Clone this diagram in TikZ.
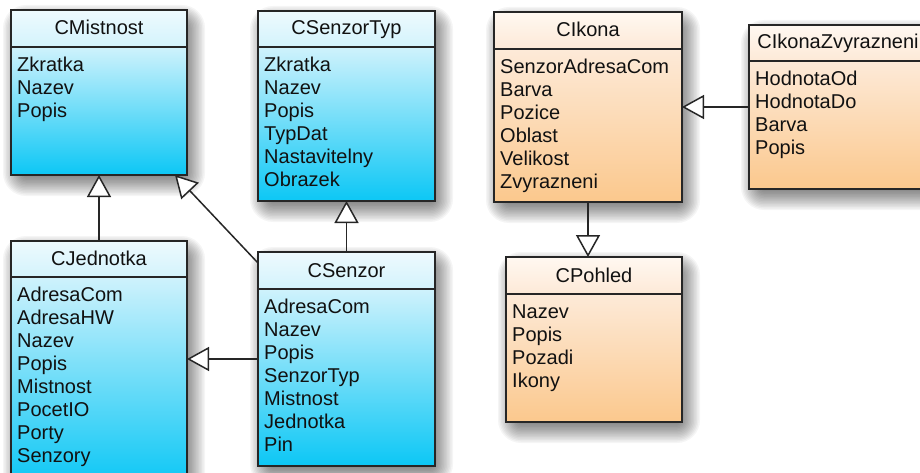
\documentclass[tikz,border=0pt]{standalone}
\usepackage{fontspec}
\setmainfont{Liberation Sans}
\usetikzlibrary{arrows.meta,fit,calc}

% class colours: header and body gradients
\definecolor{bhA}{HTML}{EEFAFE} \definecolor{bhB}{HTML}{D3F3FC}
\definecolor{bbA}{HTML}{CFF2FC} \definecolor{bbB}{HTML}{0CC7F5}
\definecolor{ohA}{HTML}{FFF8F1} \definecolor{ohB}{HTML}{FDE9D7}
\definecolor{obA}{HTML}{FDEAD8} \definecolor{obB}{HTML}{FBC88D}
\definecolor{edge}{HTML}{262626}
\definecolor{ink}{HTML}{111111}

% soft drop shadow: stacked translucent rectangles, offset down and right
% #1 left, #2 top, #3 right, #4 bottom
\newcommand\softshadow[4]{%
  \foreach \k in {0,...,15}{%
    \pgfmathsetmacro\e{-9+22*\k/15}%
    \pgfmathsetmacro\r{\e+10}%
    \fill[black,opacity=0.04,rounded corners=\r pt]
      (#1+5-\e,#2+8-\e) rectangle (#3+5+\e,#4+8+\e);
  }%
}
% #1 name, #2 left, #3 top, #4 right, #5 bottom, #6 header line, #7 title, #8 colour prefix
\newcommand\umlclass[8]{%
  \softshadow{#2}{#3}{#4}{#5}
  \node[boxarea, fit={(#2,#3) (#4,#5)}] (#1) {};
  \shade[top color=#8hA,bottom color=#8hB] (#2,#3) rectangle (#4,#6);
  \shade[top color=#8bA,bottom color=#8bB] (#2,#6) rectangle (#4,#5);
  \draw[frame] (#2,#3) rectangle (#4,#5) (#2,#6) -- (#4,#6);
  \node[title] (#1-title) at ({(#2+#4)/2},#6-12) {#7};
}
% #1 name, #2 left, #3 header line, #4 attribute list
\newcommand\umlattrs[4]{%
  \foreach \a [count=\i] in {#4}
    \node[item] (#1-\i) at (#2+6,#3+24.5+23*\i-23) {\a};
}

\begin{document}
\begin{tikzpicture}[x=1pt,y=-1pt,
  font=\fontsize{20}{23}\selectfont,
  frame/.style={draw=edge,line width=1.5pt},
  boxarea/.style={fill=white,inner sep=0pt,outer sep=0pt},
  title/.style={anchor=base,inner sep=0pt,text=ink},
  item/.style={anchor=base west,inner sep=0pt,text=ink},
  gen/.style={draw=edge,line width=1.5pt,
    -{Triangle[length=22pt,width=24pt,fill=white]}}
]
\useasboundingbox (0,0) rectangle (920,473);
\fill[white] (0,0) rectangle (920,473);
\clip (0,0) rectangle (920,473);

% sensor side
\umlclass{mist}{11}{10}{187}{175}{47}{CMistnost}{b}
\umlattrs{mist}{11}{47}{Zkratka,Nazev,Popis}

\umlclass{styp}{258}{11}{435}{201}{47}{CSenzorTyp}{b}
\umlattrs{styp}{258}{47}{Zkratka,Nazev,Popis,TypDat,Nastavitelny,Obrazek}

\umlclass{jedn}{11}{241}{187}{485}{277}{CJednotka}{b}
\umlattrs{jedn}{11}{277}{AdresaCom,AdresaHW,Nazev,Popis,Mistnost,PocetIO,Porty,Senzory}

\umlclass{senz}{258}{252}{435}{466}{289}{CSenzor}{b}
\umlattrs{senz}{258}{289}{AdresaCom,Nazev,Popis,SenzorTyp,Mistnost,Jednotka,Pin}

% view side
\umlclass{ikona}{494}{12}{682}{202}{49}{CIkona}{o}
\umlattrs{ikona}{494}{49}{SenzorAdresaCom,Barva,Pozice,Oblast,Velikost,Zvyrazneni}

\umlclass{zv}{749}{25}{927}{189}{61}{CIkonaZvyrazneni}{o}
\umlattrs{zv}{749}{61}{HodnotaOd,HodnotaDo,Barva,Popis}

\umlclass{pohled}{506}{257}{682}{422}{294}{CPohled}{o}
\umlattrs{pohled}{506}{294}{Nazev,Popis,Pozadi,Ikony}

% generalisations
\draw[gen] (jedn.north) -- (mist.south);
\draw[gen] ([yshift=-11pt]senz.north west) -- ([xshift=-12pt]mist.south east);
\draw[gen] (senz.north) -- (senz.north |- styp.south);
\draw[gen] (senz.west) -- (senz.west -| jedn.east);
\draw[gen] (zv.west) -- (zv.west -| ikona.east);
\draw[gen] (ikona.south) -- (ikona.south |- pohled.north);
\end{tikzpicture}
\end{document}
